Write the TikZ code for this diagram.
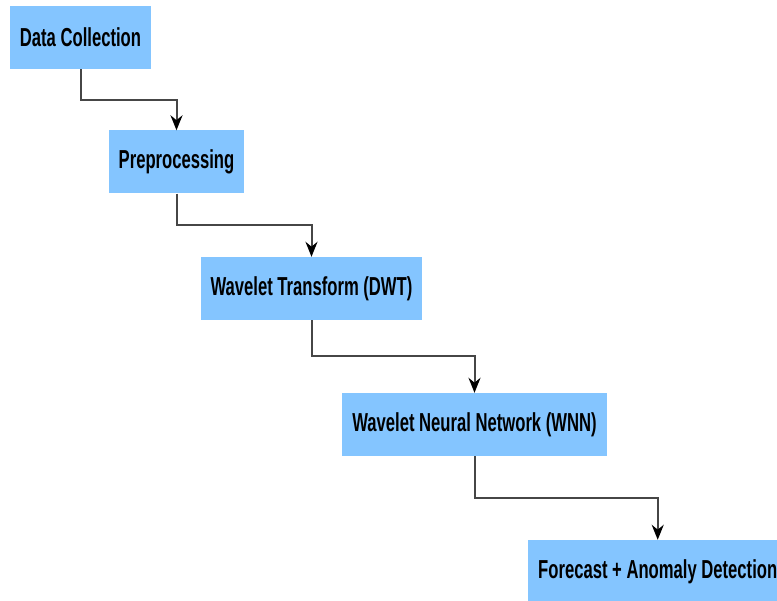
\documentclass[tikz,border=0pt]{standalone}
\usepackage{fontspec}
\setmainfont{Liberation Sans}[FakeStretch=0.64]
\usetikzlibrary{arrows.meta,calc}
\definecolor{boxblue}{RGB}{132,197,255}
\definecolor{linegray}{RGB}{70,70,70}

\begin{document}
\begin{tikzpicture}[x=1pt,y=-1pt,>=Stealth,stage/.style={fill=boxblue, inner xsep=10pt, inner ysep=0pt, minimum height=63pt, font=\fontsize{26}{29}\selectfont\bfseries},link/.style={->, line width=2pt, draw=linegray, arrows={-Stealth[length=15pt, width=12pt, color=black]}}]
\useasboundingbox (0,0) rectangle (777,601); \clip (0,0) rectangle (777,601);
\node[stage] (dc) at (80.5,37.5) {Data Collection};
\node[stage] (pp) at (176.5,162) {Preprocessing};
\node[stage] (dwt) at (311.5,288.5) {Wavelet Transform (DWT)};
\node[stage] (wnn) at (474.5,424.5) {Wavelet Neural Network (WNN)};
\node[stage, anchor=west] (fc) at (528,571.5) {Forecast + Anomaly Detection};
\draw[link] (dc.south) |- ($(dc.south)!.5!(pp.north)$) -| (pp.north);
\draw[link] (pp.south) |- ($(pp.south)!.5!(dwt.north)$) -| (dwt.north);
\draw[link] (dwt.south) |- ($(dwt.south)!.5!(wnn.north)$) -| (wnn.north);
\draw[link] (wnn.south) |- ($(wnn.south)!.5!(fc.north)$) -| (fc.north);
\end{tikzpicture}
\end{document}
